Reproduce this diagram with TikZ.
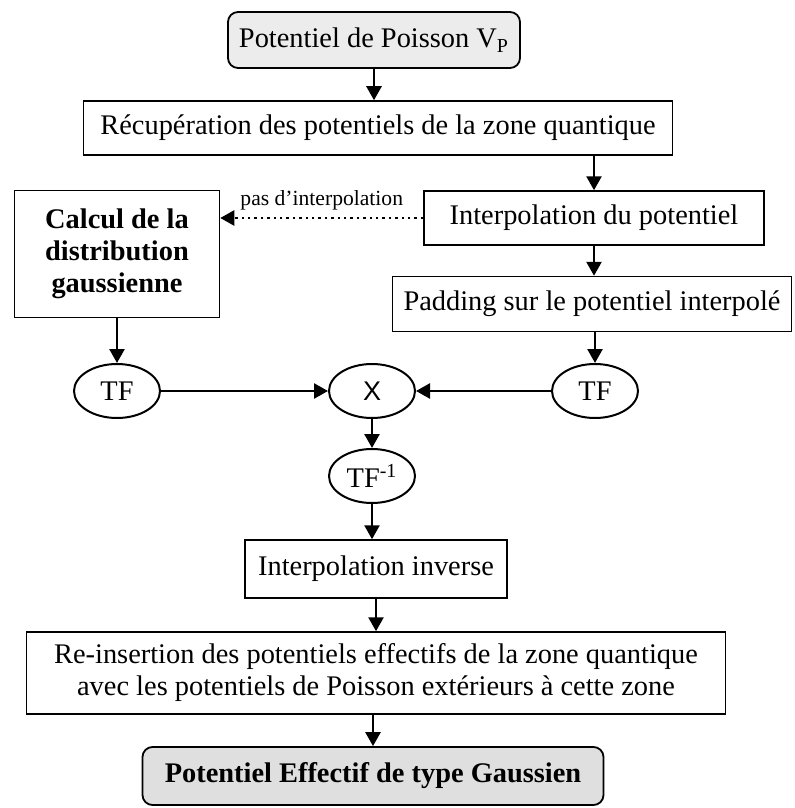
\documentclass[tikz,border=0pt]{standalone}
\usepackage{fontspec}
\setmainfont{Liberation Serif}
\newfontfamily\sansx{Liberation Sans}
\usetikzlibrary{shapes.geometric,arrows.meta}

\tikzstyle{process}=[rectangle, text centered, draw=black, line width=0.75pt, inner sep=2pt]
\tikzstyle{term}=[process, rounded corners=5pt, line width=0.9pt]
\tikzstyle{tfnode}=[ellipse, draw=black, line width=1pt, minimum width=43pt, minimum height=27pt, inner sep=1pt]
\tikzstyle{arrow}=[line width=1.3pt, ->, >={Triangle[length=7pt,width=7.5pt]}]
\tikzstyle{dotarrow}=[line width=1.2pt, dotted, ->, >={Triangle[length=7pt,width=7.5pt]}]

\begin{document}
\begin{tikzpicture}[node distance=45pt, every node/.style={font=\fontsize{14.2}{16}\selectfont}]
\useasboundingbox (0,0) rectangle (397pt,-404pt);

\node(p0)[term, fill=gray!15, minimum width=146pt, minimum height=28pt] at (187pt,-20pt){Potentiel de Poisson V\textsubscript{P}};
\node(p1)[process, below of=p0, yshift=1pt, xshift=2pt, minimum width=294.5pt, minimum height=27pt]{Récupération des potentiels de la zone quantique};
\node(p2)[process, below of=p1, xshift=108pt, minimum width=170pt, minimum height=27pt]{Interpolation du potentiel};
\node(p3)[process, left of=p2, xshift=-193.5pt, yshift=-18pt, minimum width=102.5pt, minimum height=63.5pt, align=center, font=\fontsize{14.2}{16}\selectfont\bfseries]{Calcul de la\\distribution\\gaussienne};
\node(p4)[process, below of=p2, yshift=2pt, xshift=-1pt, minimum width=199.5pt, minimum height=27.5pt]{Padding sur le potentiel interpolé};

\node(tfr)[tfnode, below of=p4, yshift=1.5pt, xshift=1.5pt]{TF};
\node(tfl)[tfnode, below of=p3, yshift=-23.5pt]{TF};
\node(x)[tfnode, left of=tfr, xshift=-66.5pt, font=\fontsize{13.5}{15}\sansx]{X};
\node(tfi)[tfnode, below of=x, yshift=2.5pt]{TF\textsuperscript{-1}};

\node(p5)[process, below of=tfi, yshift=-1.5pt, xshift=2pt, minimum width=131pt, minimum height=29pt]{Interpolation inverse};
\node(p6)[process, below of=p5, yshift=-7pt, minimum width=349.5pt, minimum height=41pt, align=center]{Re-insertion des potentiels effectifs de la zone quantique\\avec les potentiels de Poisson extérieurs à cette zone};
\node(p7)[term, fill=gray!25, below of=p6, yshift=-6.5pt, xshift=-1.5pt, minimum width=230.5pt, minimum height=29pt, font=\fontsize{14.2}{16}\selectfont\bfseries]{Potentiel Effectif de type Gaussien};

\draw[arrow](p0.south)--(p0.south |- p1.north);
\draw[arrow](p1.south -| p2)--(p2);
\draw[arrow](p2)--(p2 |- p4.north);
\draw[arrow](p4.south -| tfr)--(tfr);
\draw[arrow](p3)--(tfl);
\draw[arrow](tfl)--(x);
\draw[arrow](tfr)--(x);
\draw[arrow](x)--(tfi);
\draw[arrow](tfi)--(tfi |- p5.north);
\draw[arrow](p5)--(p6);
\draw[arrow](p6.south -| p7)--(p7);
\draw[dotarrow](p2.west)--(p2.west -| p3.east) node[midway, above, font=\fontsize{10.8}{12}\selectfont]{pas d’interpolation};

\end{tikzpicture}
\end{document}
